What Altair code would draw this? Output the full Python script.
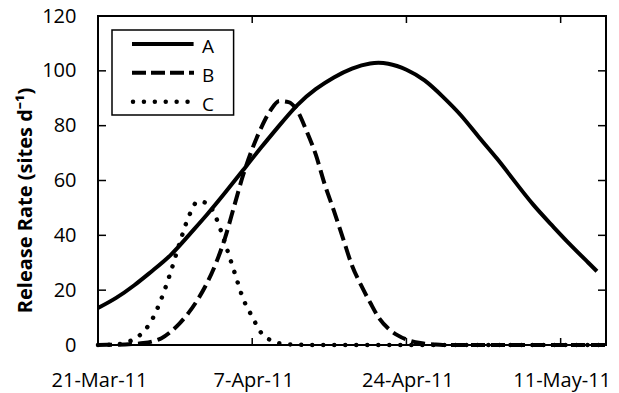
import altair as alt
import pandas as pd

START = pd.Timestamp("2011-03-21")
END_DAY = 56

# Series A (solid) — value every 2 days (day offset from 21-Mar-11)
A_days = [0, 2, 4, 6, 8, 10, 12, 14, 16, 18, 20, 22, 24, 26, 28, 30, 32, 34,
          36, 38, 40, 42, 44, 46, 48, 50, 52, 54, 55]
A_vals = [13.5, 17.2, 21.8, 27.1, 32.8, 40.0, 47.5, 55.5, 63.8, 72.1, 80.1, 87.6,
          93.3, 97.6, 100.8, 102.7, 102.6, 100.4, 96.5, 90.6, 83.8, 75.8, 67.9,
          59.4, 51.1, 43.8, 36.8, 30.2, 26.9]

# Series B (dashed) — daily values
B_days = list(range(0, 57))
B_vals = [0, 0.05, 0.1, 0.2, 0.4, 0.7, 1.3, 2.5, 4.8, 7.9, 11.8, 16.6, 22.5, 29.8,
          39.0, 50.5, 62.0, 71.5, 79.3, 85.5, 89.0, 88.6, 85.3, 78.0, 69.5, 58.5,
          49.0, 39.0, 29.0, 21.8, 15.5, 9.7, 6.0, 3.6, 2.0, 1.0, 0.5, 0.2,
          0, 0, 0, 0, 0, 0, 0, 0, 0, 0, 0, 0, 0, 0, 0, 0, 0, 0, 0]

# Series C (dotted) — daily values
C_days = list(range(0, 57))
C_vals = [0, 0.05, 0.2, 0.8, 2.2, 4.8, 9.5, 17.0, 26.5, 37.2, 46.8, 52.3, 51.8,
          46.5, 37.2, 27.0, 16.9, 10.3, 4.4, 1.8, 0.6, 0.25, 0.1,
          0, 0, 0, 0, 0, 0, 0, 0, 0, 0, 0, 0, 0, 0, 0, 0, 0, 0, 0, 0, 0, 0, 0,
          0, 0, 0, 0, 0, 0, 0, 0, 0, 0, 0]

X_TICK_DAYS = [0, 17, 34, 51]
Y_TICKS = [0, 20, 40, 60, 80, 100, 120]
LEGEND_LABELS = ["A", "B", "C"]

W, H = 508, 329
FONT = "Open Sans"


def to_date(days):
    return [(START + pd.Timedelta(days=d)).strftime("%Y-%m-%dT%H:%M:%S") for d in days]


dfA = pd.DataFrame({"date": to_date(A_days), "value": A_vals})
dfB = pd.DataFrame({"date": to_date(B_days), "value": B_vals})
dfC = pd.DataFrame({"date": to_date(C_days), "value": C_vals})
df_xt = pd.DataFrame({"date": to_date(X_TICK_DAYS)})
df_yt = pd.DataFrame({"value": Y_TICKS})
df_leg = pd.DataFrame({"label": LEGEND_LABELS, "row": [0, 1, 2]})

xscale = alt.Scale(type="utc", domain=to_date([0, END_DAY]))
yscale = alt.Scale(domain=[0, 120], nice=False, zero=True)

x_enc = alt.X(
    "date:T",
    scale=xscale,
    axis=alt.Axis(
        title=None,
        values=to_date(X_TICK_DAYS),
        labelExpr="utcFormat(datum.value, '%-d-%b-%y')",
        ticks=False, domain=False, grid=False,
        labelFont=FONT, labelFontSize=20, labelColor="black",
        labelPadding=25, labelOffset=1, labelFlush=False,
    ),
)
y_enc = alt.Y(
    "value:Q",
    scale=yscale,
    axis=alt.Axis(
        title="Release Rate (sites d\u207b\u00b9)",
        values=Y_TICKS,
        ticks=False, domain=False, grid=False,
        labelFont=FONT, labelFontSize=20, labelColor="black",
        labelPadding=22,
        titleFont=FONT, titleFontSize=20, titleFontWeight="bold", titleColor="black",
        titleAngle=-90, titleX=-73, titleY=184, titleAlign="center",
        titleBaseline="middle",
    ),
)

lineA = alt.Chart(dfA).mark_line(
    color="black", strokeWidth=4, interpolate="natural"
).encode(x=x_enc, y=y_enc)
lineB = alt.Chart(dfB).mark_line(
    color="black", strokeWidth=4, interpolate="monotone", strokeDash=[14, 6], strokeCap="butt"
).encode(x=x_enc, y=y_enc)
lineC = alt.Chart(dfC).mark_line(
    color="black", strokeWidth=4.5, interpolate="monotone", strokeDash=[0.01, 11], strokeCap="round"
).encode(x=x_enc, y=y_enc)

ytick_l = alt.Chart(df_yt).mark_rule(color="black", strokeWidth=1.5).encode(
    y=y_enc, x=alt.value(0), x2=alt.value(8))
ytick_r = alt.Chart(df_yt).mark_rule(color="black", strokeWidth=1.5).encode(
    y=y_enc, x=alt.value(W - 8), x2=alt.value(W))
xtick_b = alt.Chart(df_xt).mark_rule(color="black", strokeWidth=1.5).encode(
    x=x_enc, y=alt.value(H - 7), y2=alt.value(H))
xtick_t = alt.Chart(df_xt).mark_rule(color="black", strokeWidth=1.5).encode(
    x=x_enc, y=alt.value(0), y2=alt.value(7))

data_layers = alt.layer(ytick_l, ytick_r, xtick_b, xtick_t, lineC, lineB, lineA)

# Legend (drawn from the label list through a point scale)
leg_y = alt.Y("row:O", scale=alt.Scale(type="point", domain=[0, 1, 2], range=[28, 85.7], padding=0), axis=None)
leg_box = alt.Chart(pd.DataFrame({"k": [0]})).mark_rect(
    fill="white", stroke="black", strokeWidth=1.5
).encode(x=alt.value(14), x2=alt.value(135.6), y=alt.value(14), y2=alt.value(99))
legA = alt.Chart(df_leg).transform_filter("datum.row == 0").mark_rule(
    color="black", strokeWidth=4).encode(y=leg_y, x=alt.value(34), x2=alt.value(95.6))
legB = alt.Chart(df_leg).transform_filter("datum.row == 1").mark_rule(
    color="black", strokeWidth=4, strokeDash=[14, 5], strokeCap="butt").encode(
    y=leg_y, x=alt.value(34), x2=alt.value(96))
legC = alt.Chart(df_leg).transform_filter("datum.row == 2").mark_rule(
    color="black", strokeWidth=4.5, strokeDash=[0.01, 10.9], strokeCap="round").encode(
    y=leg_y, x=alt.value(35), x2=alt.value(96))
leg_text = alt.Chart(df_leg).mark_text(
    font=FONT, fontSize=19, color="black", align="left", baseline="alphabetic", dy=9
).encode(y=leg_y, x=alt.value(104), text="label:N")
legend_layers = alt.layer(leg_box, legA, legB, legC, leg_text)

chart = alt.layer(data_layers, legend_layers).resolve_scale(y="independent").properties(
    width=W, height=H,
    autosize=alt.AutoSizeParams(type="none"),
    padding={"left": 90, "top": 8, "right": 5, "bottom": 48},
    background="white",
).configure_view(stroke="black", strokeWidth=2)

chart.save("out.html", embed_options={"renderer": "svg", "actions": False})
